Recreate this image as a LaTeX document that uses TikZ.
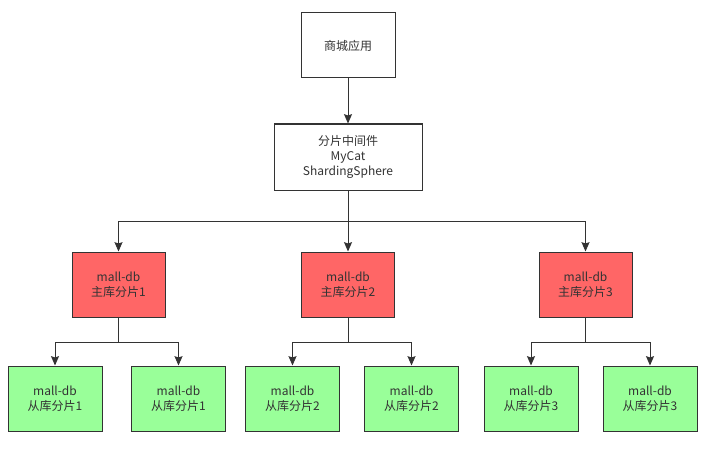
\documentclass[tikz,border=0pt]{standalone}
\usepackage{fontspec}
\setmainfont{Noto Sans CJK SC}
\usetikzlibrary{arrows.meta}
\definecolor{linec}{HTML}{333333}
\definecolor{txtc}{HTML}{333333}
\definecolor{redf}{HTML}{FF6666}
\definecolor{greenf}{HTML}{99FF99}
\begin{document}
\begin{tikzpicture}[x=0.75pt,y=-0.75pt,
  box/.style={draw=linec,line width=0.75pt,minimum width=70.5pt,minimum height=48.75pt,
    align=center,font=\fontsize{9}{11}\selectfont,text=txtc,inner sep=0pt},
  midbox/.style={box,minimum width=111pt,minimum height=49.5pt},
  master/.style={box,fill=redf,minimum width=69.75pt},
  slave/.style={box,fill=greenf},
  arr/.style={draw=linec,line width=0.75pt,-{Stealth[length=7pt,width=6pt,inset=1pt]}},
  ln/.style={draw=linec,line width=0.75pt}]
\useasboundingbox (0,0) rectangle (705,449);
\fill[white] (0,0) rectangle (705,449);
\node[box] (app) at (348,45.5) {商城应用};
\node[midbox] (mid) at (348,157) {分片中间件\\MyCat\\ShardingSphere};
\node[master] (r1) at (118.5,284.5) {mall-db\\主库分片1};
\node[master] (r2) at (348,284.5) {mall-db\\主库分片2};
\node[master] (r3) at (585.5,284.5) {mall-db\\主库分片3};
\node[slave] (g1) at (55,398.5) {mall-db\\从库分片1};
\node[slave] (g2) at (178.5,398.5) {mall-db\\从库分片1};
\node[slave] (g3) at (292.5,398.5) {mall-db\\从库分片2};
\node[slave] (g4) at (411.5,398.5) {mall-db\\从库分片2};
\node[slave] (g5) at (531,398.5) {mall-db\\从库分片3};
\node[slave] (g6) at (650,398.5) {mall-db\\从库分片3};
\coordinate (j0) at (348,221);
\coordinate (j1) at (118.5,342);
\coordinate (j2) at (348,342);
\coordinate (j3) at (585.5,342);
\draw[arr] (app) -- (mid);
\draw[ln] (mid.south) -- (j0);
\draw[arr] (j0) -| (r1.north);
\draw[arr] (j0) -- (r2.north);
\draw[arr] (j0) -| (r3.north);
\draw[ln] (r1.south) -- (j1);
\draw[arr] (j1) -| (g1.north);
\draw[arr] (j1) -| (g2.north);
\draw[ln] (r2.south) -- (j2);
\draw[arr] (j2) -| (g3.north);
\draw[arr] (j2) -| (g4.north);
\draw[ln] (r3.south) -- (j3);
\draw[arr] (j3) -| (g5.north);
\draw[arr] (j3) -| (g6.north);
\end{tikzpicture}
\end{document}
